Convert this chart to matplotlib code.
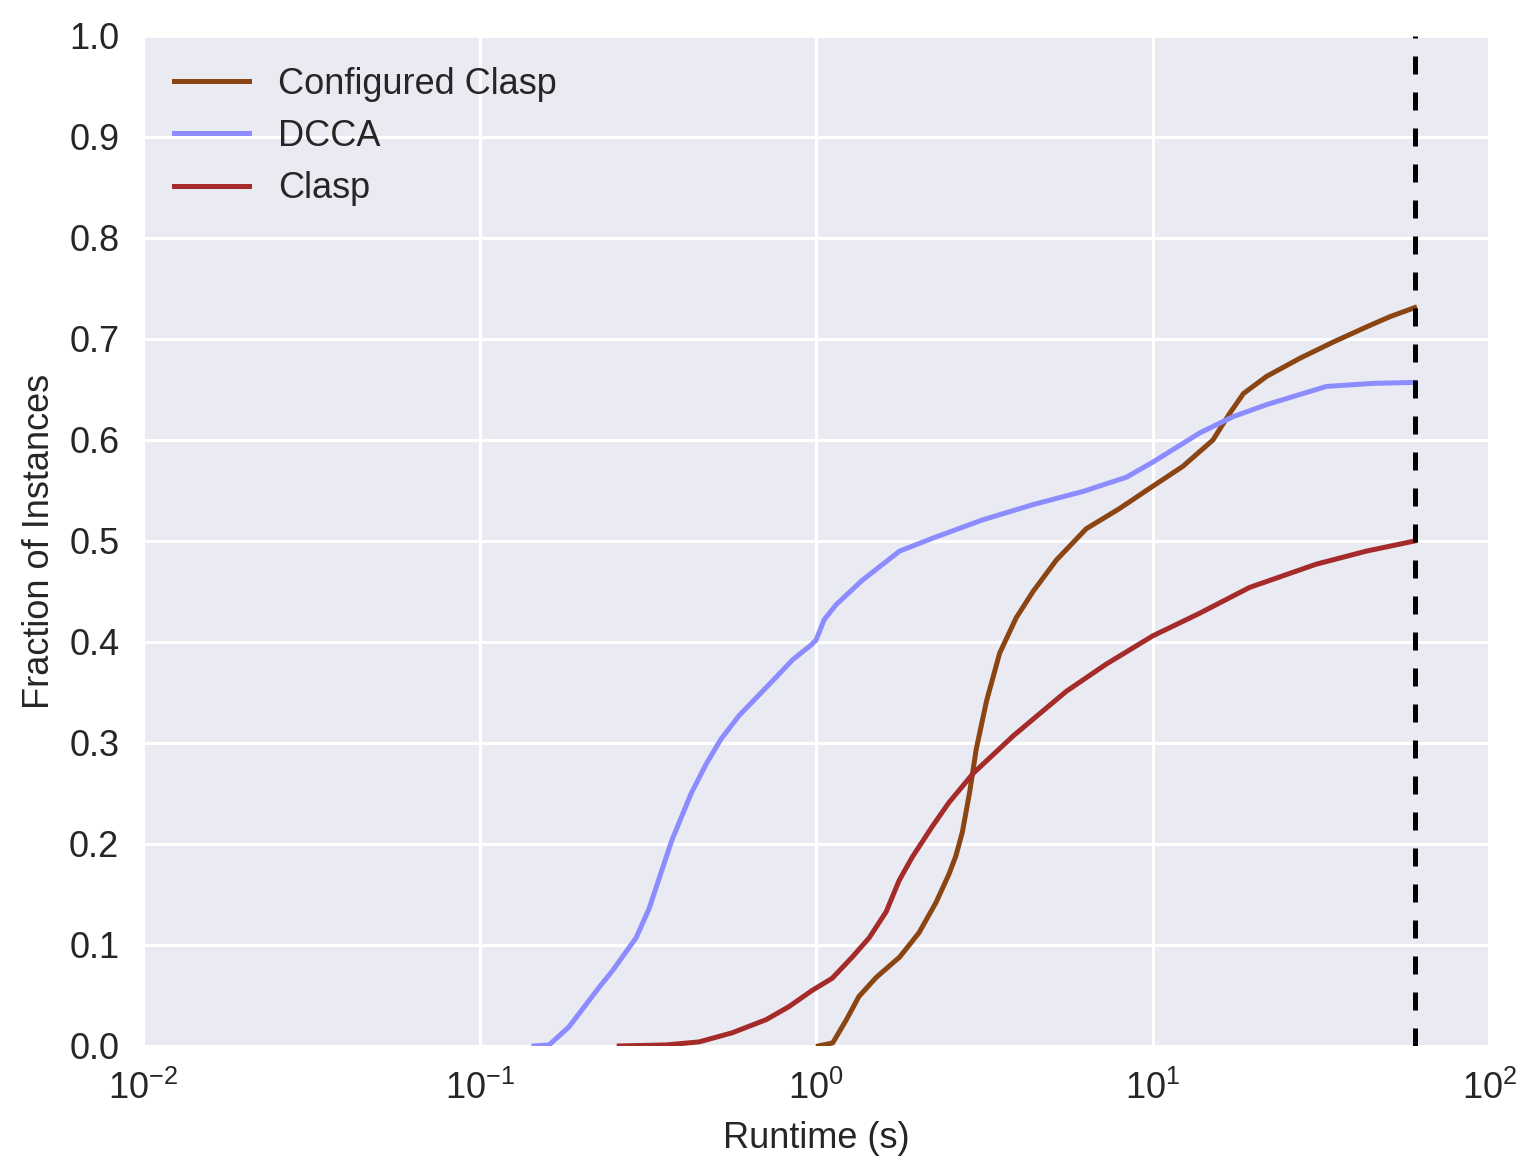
import matplotlib
matplotlib.use("Agg")
import matplotlib.pyplot as plt
import numpy as np

# ---- data ----
dcca_x = [0.145, 0.161, 0.1845, 0.2265, 0.2477, 0.2917, 0.319, 0.348, 0.373, 0.4253, 0.471, 0.522,
          0.590, 0.760, 0.849, 0.966, 1.0, 1.056, 1.147, 1.37, 1.77, 2.23, 3.13, 4.41, 6.2, 8.34,
          10.0, 13.8, 17.3, 21.8, 32.8, 45.0, 60.0]
dcca_y = [0.0, 0.001, 0.019, 0.058, 0.074, 0.107, 0.136, 0.174, 0.204, 0.250, 0.279, 0.304,
          0.327, 0.365, 0.382, 0.397, 0.402, 0.422, 0.437, 0.461, 0.490, 0.503, 0.521, 0.536, 0.549, 0.563,
          0.578, 0.607, 0.623, 0.635, 0.653, 0.656, 0.657]

conf_x = [1.016, 1.12, 1.23, 1.34, 1.51, 1.77, 2.02, 2.27, 2.48, 2.6, 2.72, 2.86, 2.99, 3.21, 3.51, 3.93,
          4.41, 5.17, 6.34, 7.96, 9.78, 12.3, 15.1, 16.9, 18.6, 21.8, 27.4, 34.4, 43.2, 50.6, 60.0]
conf_y = [0.0, 0.003, 0.026, 0.049, 0.068, 0.088, 0.112, 0.142, 0.170, 0.188, 0.212, 0.252, 0.294, 0.342, 0.389, 0.424,
          0.450, 0.481, 0.512, 0.532, 0.552, 0.574, 0.600, 0.626, 0.646, 0.663, 0.681, 0.697, 0.712, 0.722, 0.731]

clasp_x = [0.26, 0.358, 0.449, 0.563, 0.71, 0.831, 0.973, 1.116, 1.28, 1.437, 1.615, 1.765, 1.93, 2.21,
           2.48, 2.93, 3.85, 5.53, 7.27, 10.0, 13.7, 19.4, 30.6, 43.2, 60.0]
clasp_y = [0.0, 0.001, 0.004, 0.013, 0.026, 0.039, 0.055, 0.067, 0.088, 0.107, 0.133, 0.164, 0.187, 0.217,
           0.241, 0.270, 0.307, 0.351, 0.378, 0.406, 0.428, 0.454, 0.477, 0.490, 0.500]

cutoff = 60
labels = ["Configured Clasp", "DCCA", "Clasp"]
colors = ["#8B4513", "#8C8CFF", "#A52A2A"]

plt.rcParams['font.family'] = ['Liberation Sans', 'DejaVu Sans']

fig = plt.figure(figsize=(15.37, 11.68), dpi=100)
ax = fig.add_axes([0.093, 0.1045, 0.876, 0.8647])
ax.set_facecolor("#EAEAF2")
for s in ax.spines.values():
    s.set_visible(False)
ax.grid(True, color="white", linewidth=2.2)
ax.set_axisbelow(True)

ax.plot(conf_x, conf_y, color=colors[0], lw=3.6, label=labels[0])
ax.plot(dcca_x, dcca_y, color=colors[1], lw=3.6, label=labels[1])
ax.plot(clasp_x, clasp_y, color=colors[2], lw=3.6, label=labels[2])
ax.axvline(cutoff, color="black", lw=3.6, ls=(0, (3.6, 3.6)))

ax.set_xscale("log")
ax.set_xlim(1e-2, 1e2)
ax.set_ylim(0, 1.0)
ax.set_yticks(np.arange(0, 1.01, 0.1))
ax.set_yticklabels([f"{v:.1f}" for v in np.arange(0, 1.01, 0.1)])
ax.minorticks_off()
ax.tick_params(axis="both", which="both", length=0, labelsize=26, colors="#262626")
ax.tick_params(axis="y", pad=17)
ax.tick_params(axis="x", pad=18)
ax.set_xlabel("Runtime (s)", fontsize=26, color="#262626", labelpad=10)
ax.set_ylabel("Fraction of Instances", fontsize=26, color="#262626", labelpad=8.5)

leg = ax.legend(loc="upper left", fontsize=26, frameon=False, handlelength=2.1,
                handletextpad=0.78, labelspacing=0.48, borderaxespad=0.45)
for t in leg.get_texts():
    t.set_color("#262626")

fig.savefig("out.png", dpi=100)
